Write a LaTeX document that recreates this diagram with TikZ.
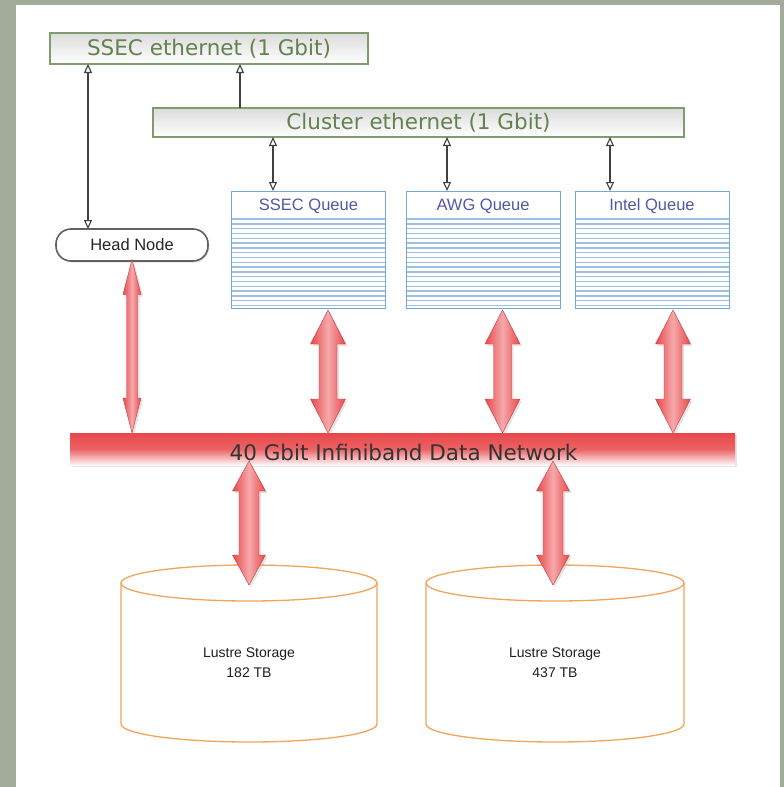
\documentclass[tikz,border=0pt]{standalone}
\usepackage{fontspec}
\setmainfont{Liberation Sans}
\newfontfamily\verd{DejaVu Sans}
\usetikzlibrary{arrows.meta,calc,shadows}

\definecolor{bggray}{HTML}{A3AC9A}
\definecolor{ethgreen}{HTML}{7E9C6E}
\definecolor{ethtext}{HTML}{62824F}
\definecolor{qblue}{HTML}{73A9DA}
\definecolor{qline}{HTML}{9DC0E3}
\definecolor{qtext}{HTML}{5357A6}
\definecolor{ibred}{HTML}{E8474A}
\definecolor{arrred}{HTML}{E9474B}
\definecolor{arrpink}{HTML}{F5A9AB}
\definecolor{storor}{HTML}{F2A55A}

\tikzset{
  ethbox/.style={rectangle, draw=ethgreen, line width=1.3pt, top color=black!14, bottom color=white,
    text=ethtext, font=\verd\fontsize{21.5}{24}\selectfont,
    drop shadow={opacity=0.18, shadow xshift=1.2pt, shadow yshift=-1.2pt}},
  qbox/.style={rectangle, draw=qblue, line width=1pt, fill=white, anchor=north west,
    minimum width=154pt, minimum height=117pt},
  qlabel/.style={text=qtext, font=\fontsize{16.5}{18}\selectfont},
  qrule/.style={draw=qline, line width=1.4pt},
  headbox/.style={rectangle, rounded corners=15pt, draw=black!62, line width=1.6pt, fill=white,
    font=\fontsize{16.5}{18}\selectfont, text=black!85,
    drop shadow={opacity=0.25, shadow xshift=1.2pt, shadow yshift=-1.5pt}},
  ibbar/.style={rectangle, top color=ibred, bottom color=ibred!4, middle color=ibred!85,
    text=black!80, font=\verd\fontsize{21.5}{24}\selectfont,
    drop shadow={opacity=0.2, shadow xshift=1.5pt, shadow yshift=-1.5pt}},
  redarr/.style={left color=arrred, right color=arrred, middle color=arrpink,
    draw=arrred!85!black, line width=0.4pt,
    drop shadow={opacity=0.22, shadow xshift=2pt, shadow yshift=-2pt}},
  thinarr/.style={draw=black!75, line width=1.1pt,
    arrows={Triangle[open,length=9pt,width=8pt]-Triangle[open,length=9pt,width=8pt]}},
  thinone/.style={draw=black!75, line width=1.1pt, arrows={-Triangle[open,length=9pt,width=8pt]}},
  cyl/.style={draw=storor, line width=1.3pt},
  stortext/.style={align=center, text=black!88, font=\fontsize{14}{20}\selectfont}
}

\newcommand\dblarrow[5]{%
  \path[redarr] let \p1=#1, \p2=#2 in
    (\x1,\y1) -- (\x1+#4,\y1-#5) -- (\x1+#3,\y1-#5) -- (\x1+#3,\y2+#5) -- (\x1+#4,\y2+#5)
    -- (\x1,\y2) -- (\x1-#4,\y2+#5) -- (\x1-#3,\y2+#5) -- (\x1-#3,\y1-#5) -- (\x1-#4,\y1-#5) -- cycle;}

\begin{document}
\begin{tikzpicture}[x=1pt,y=-1pt, every node/.style={inner sep=0pt, outer sep=0pt}]
\fill[bggray] (0,0) rectangle (784,787);
\fill[white] (16,5) rectangle (780,787);
\useasboundingbox (0,0) rectangle (784,787);

% ethernet boxes
\node[ethbox, minimum width=318pt, minimum height=31pt] (sseceth) at (209,48.5) {SSEC ethernet (1 Gbit)};
\node[ethbox, minimum width=531pt, minimum height=29pt] (cleth) at (418.5,122.5) {Cluster ethernet (1 Gbit)};

% queues
\node[qbox] (q1) at (231.5,191) {};
\node[qbox] (q2) at (406,191) {};
\node[qbox] (q3) at (575,191) {};
\foreach \q/\t in {q1/SSEC Queue, q2/AWG Queue, q3/Intel Queue}{
  \foreach \i in {0,...,18}{
    \draw[qrule] ($(\q.north west)+(0.5,28+\i*4.8)$) -- ($(\q.north east)+(-0.5,28+\i*4.8)$);
  }
  \node[qlabel] at ($(\q.north)+(0,15)$) {\t};
}
\foreach \q in {q1,q2,q3}{\draw[draw=qblue, line width=1pt] (\q.north west) rectangle (\q.south east);}

% head node
\node[headbox, minimum width=152pt, minimum height=32pt] (hn) at (132,245) {Head Node};

% infiniband bar
\node[ibbar, minimum width=665pt, minimum height=32pt] (ib) at (402.5,449) {};

% storage
\foreach \cx/\rx/\nm/\tb in {249/128/st1/182, 555/129/st2/437}{
  \draw[cyl] (\cx-\rx,583) -- (\cx-\rx,724) arc[start angle=180, end angle=360, x radius=\rx pt, y radius=18pt] -- (\cx+\rx,583);
  \draw[cyl, fill=white] (\cx,583) ellipse [x radius=\rx pt, y radius=18pt];
  \node[stortext] (\nm) at (\cx,663) {Lustre Storage\\\tb\ TB};
}

% thin arrows
\coordinate (h1) at ($(hn.north west)+(32,0)$);
\draw[thinarr] (h1) -- (h1 |- sseceth.south);
\coordinate (c0) at (240,0);
\draw[thinone] (c0 |- cleth.north) -- (c0 |- sseceth.south);
\foreach \q/\dx in {q1/-35.5, q2/-36, q3/-42}{
  \coordinate (t\q) at ($(\q.north)+(\dx,0)$);
  \draw[thinarr] (t\q |- cleth.south) -- (t\q);
}

% red arrows (upper)
\coordinate (hb) at ($(hn.south)+(0,-1.5)$);
\dblarrow{(hb)}{(hb |- ib.north)}{5.5pt}{9pt}{35pt}
\foreach \q in {q1,q2}{
  \coordinate (a\q) at ($(\q.south)+(19.5,2)$);
  \dblarrow{(a\q)}{(a\q |- ib.north)}{9pt}{17.5pt}{34pt}
}
\coordinate (aq3) at ($(q3.south)+(21,2)$);
\dblarrow{(aq3)}{(aq3 |- ib.north)}{9pt}{17.5pt}{34pt}

% red arrows (lower)
\coordinate (s1) at (st1 |- 0,585);
\coordinate (s2) at ($(st2 |- 0,585)+(-2,0)$);
\dblarrow{($(s1 |- ib.south)+(0,-4)$)}{(s1)}{10pt}{16.5pt}{30pt}
\dblarrow{($(s2 |- ib.south)+(0,-4)$)}{(s2)}{10pt}{16.5pt}{30pt}

\node[text=black!80, font=\verd\fontsize{21.5}{24}\selectfont] at ($(ib.center)+(1,3)$) {40 Gbit Infiniband Data Network};
\end{tikzpicture}
\end{document}
